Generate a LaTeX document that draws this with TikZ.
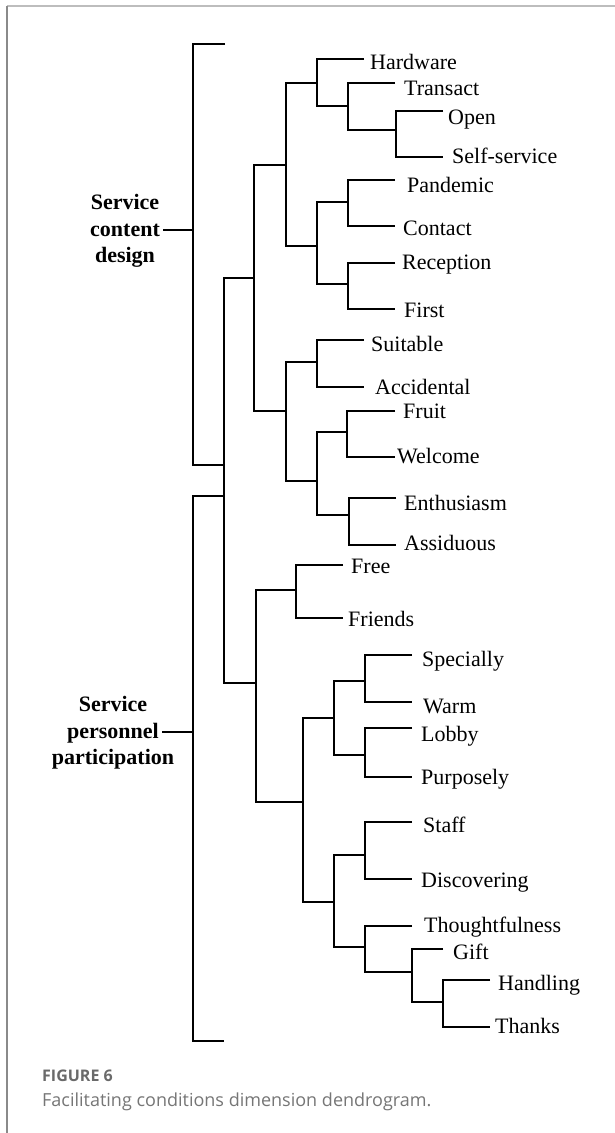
\documentclass[tikz,border=0pt]{standalone}
\usepackage{fontspec}
\setmainfont{Liberation Serif}
\newfontfamily\capfont{Open Sans}
\definecolor{framegray}{HTML}{BDBDBD}
\definecolor{edgegray}{HTML}{8A8A8A}
\definecolor{capgray}{HTML}{6A6A6A}
\definecolor{captxt}{HTML}{767676}
\begin{document}
\begin{tikzpicture}[x=1pt,y=-1pt,
  dend/.style={line width=1.7pt, black, line join=miter},
  leaf/.style={anchor=base west, inner sep=0pt, font=\fontsize{22}{26}\selectfont},
  grp/.style={align=center, inner sep=0pt, font=\fontsize{22}{26.5}\selectfont\bfseries},
  capnum/.style={anchor=base west, inner sep=0pt, text=capgray, font=\capfont\bfseries\fontsize{16}{19}\selectfont},
  captext/.style={anchor=base west, inner sep=0pt, text=captxt, font=\capfont\fontsize{18}{22}\selectfont}]
\useasboundingbox (0,0) rectangle (615,1133);
\fill[white] (0,0) rectangle (615,1133);
% frame
\draw[framegray, line width=2pt] (7,6) -- (615,6);
\draw[edgegray, line width=1.3pt] (7,6) -- (7,1133);

% leaf line ends
\foreach \n/\x/\y in {hw/364/59, tr/395/83, op/443/111, ss/443/157, pa/395/180, co/395/226,
  re/395/263, fi/395/309, su/364/340, ac/364/387, fr/395/411, we/395/457, en/396/498,
  as/396/545, fe/343/565, fd/343/618, sp/412/655, wa/412/702, lo/412/728, pu/412/777,
  st/412/822, di/412/879, th/412/926, gi/443/949, ha/490/980, ta/490/1027}
  \coordinate (\n) at (\x,\y);

% cluster joins
\foreach \n/\x/\y in {os/396/130, trc/348/106, hwc/317/83, pc/348/202, rf/348/284, pr/317/246,
  ca/286/165, sa/317/362, fw/347/432, ea/349/515, fec/317/481, cb/286/411, ctop/254/278,
  ff/296/590, sw/365/681, lp/365/755, sl/334/718, sd/365/855, ht/443/1002, gh/412/972,
  tg/365/947, stc/334/902, mid/303/802, bot/256/683, root/224/480}
  \coordinate (\n) at (\x,\y);

% leaf labels
\foreach \n/\x/\y/\t in {lhw/370/69/Hardware, ltr/404/95/Transact, lop/448/124/Open,
  lss/452/163/Self-service, lpa/407/192/Pandemic, lco/403/235/Contact, lre/402/269/Reception,
  lfi/404/317/First, lsu/371/351/Suitable, lac/375/394/Accidental, lfr/403/418/Fruit,
  lwe/397/463/Welcome, len/404/510/Enthusiasm, las/404/550/Assiduous, lfe/351/573/Free,
  lfd/348/626/Friends, lsp/422/666/Specially, lwa/423/713/Warm, llo/421/741/Lobby,
  lpu/421/784/Purposely, lst/423/832/Staff, ldi/421/887/Discovering,
  lth/424/932/Thoughtfulness, lgi/453/959/Gift, lha/498/990/Handling, lta/495/1033/Thanks}
  \node[leaf] (\n) at (\x,\y) {\t};

% elbows: parent / first child / second child
\foreach \p/\a/\b in {os/op/ss, trc/tr/os, hwc/hw/trc, pc/pa/co, rf/re/fi, pr/pc/rf,
  ca/hwc/pr, sa/su/ac, fw/fr/we, ea/en/as, fec/fw/ea, cb/sa/fec, ctop/ca/cb,
  ff/fe/fd, sw/sp/wa, lp/lo/pu, sl/sw/lp, sd/st/di, ht/ha/ta, gh/gi/ht, tg/th/gh,
  stc/sd/tg, mid/sl/stc, bot/ff/mid, root/ctop/bot}
  \draw[dend] (\a) -- (\p |- \a) -- (\p |- \b) -- (\b);

% dimension brackets
\coordinate (brk) at (193,0);
\coordinate (bat) at (225,44);
\coordinate (bab) at (223,465);
\coordinate (bbt) at (223,496);
\coordinate (bbb) at (224,1041);
\draw[dend] (bat) -- (bat -| brk) -- (bab -| brk) -- (bab);
\draw[dend] (bbt) -- (bbt -| brk) -- (bbb -| brk) -- (bbb);

% dimension labels
\node[grp] (g1) at (125,231) {Service\\content\\design};
\node[grp] (g2) at (113,733) {Service\\personnel\\participation};
\coordinate (g1e) at (163,230);
\coordinate (g2e) at (162,732);
\draw[dend] (g1e) -- (g1e -| brk);
\draw[dend] (g2e) -- (g2e -| brk);

% caption
\node[capnum] (fig) at (42,1081) {FIGURE 6};
\node[captext] (cap) at (42,1106) {Facilitating conditions dimension dendrogram.};
\end{tikzpicture}
\end{document}
